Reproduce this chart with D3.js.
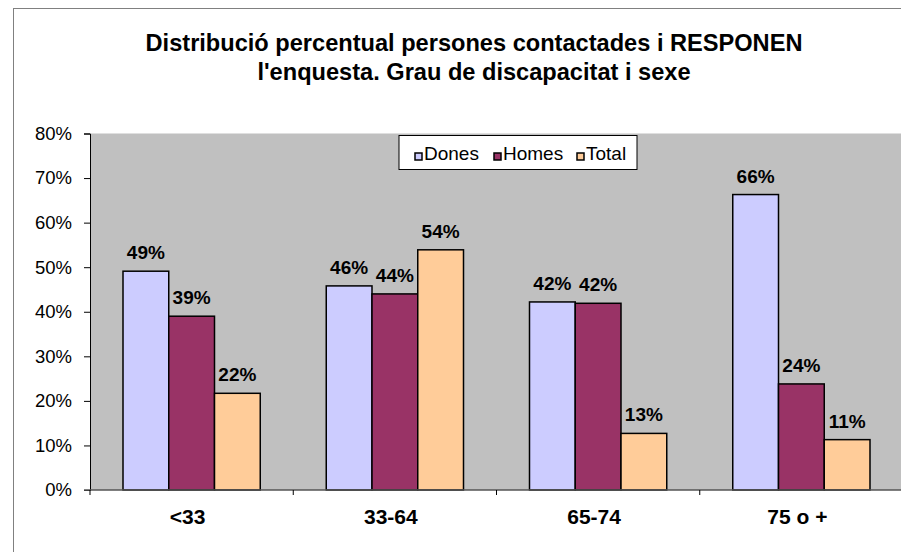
<!DOCTYPE html>
<html><head><meta charset="utf-8">
<script src="https://cdn.jsdelivr.net/npm/d3@7"></script>
<style>body{margin:0;background:#fff}svg{display:block;font-family:Arial,"Liberation Sans",sans-serif}</style>
</head><body>
<svg id="c" width="901" height="552"></svg>
<script>
const categories = ["<33", "33-64", "65-74", "75 o +"];
const seriesNames = ["Dones", "Homes", "Total"];
const dones = [49.1, 45.8, 42.2, 66.3];
const homes = [39.0, 44.0, 41.9, 23.8];
const total = [21.7, 53.9, 12.7, 11.3];
const yTicks = [0, 10, 20, 30, 40, 50, 60, 70, 80];
const titleLines = ["Distribució percentual persones contactades i RESPONEN", "l'enquesta. Grau de discapacitat i sexe"];
const colors = ["#CCCCFF", "#993366", "#FFCC99"];

const svg = d3.select("#c");
// outer border
svg.append("rect").attr("x", 13.5).attr("y", 8.5).attr("width", 950).attr("height", 600)
  .attr("fill", "#fff").attr("stroke", "#808080").attr("stroke-width", 1);

const pLeft = 90, pTop = 133.5, pBottom = 490, pRight = 903;
const x = d3.scaleBand().domain(categories).range([pLeft, pRight]).paddingInner(0).paddingOuter(0);
const y = d3.scaleLinear().domain([0, 80]).range([pBottom, pTop]);

svg.append("rect").attr("x", pLeft).attr("y", pTop).attr("width", 901 - pLeft).attr("height", pBottom - pTop).attr("fill", "#C0C0C0");

// title
svg.append("text").attr("x", 474).attr("y", 51).attr("text-anchor", "middle")
  .attr("font-size", 23.6).attr("font-weight", "bold").text(titleLines[0]);
svg.append("text").attr("x", 474).attr("y", 80).attr("text-anchor", "middle")
  .attr("font-size", 23.6).attr("font-weight", "bold").text(titleLines[1]);

const groupPad = 33;
const x1 = d3.scaleBand().domain(seriesNames).range([groupPad, x.bandwidth() - groupPad]);
const fmt = v => Math.round(v) + "%";

const series = [dones, homes, total];
seriesNames.forEach((s, si) => {
  const g = svg.append("g");
  categories.forEach((c, ci) => {
    const v = series[si][ci];
    const bx = x(c) + x1(s);
    g.append("rect").attr("x", bx).attr("y", y(v)).attr("width", x1.bandwidth()).attr("height", pBottom - y(v))
      .attr("fill", colors[si]).attr("stroke", "#000").attr("stroke-width", 1.5);
    g.append("text").attr("x", bx + x1.bandwidth() / 2).attr("y", y(v) - 12).attr("text-anchor", "middle")
      .attr("font-size", 19).attr("font-weight", "bold").text(fmt(v));
  });
});

// y axis
const yAxis = d3.axisLeft(y).tickValues(yTicks).tickFormat(d => d + "%").tickSize(6).tickPadding(12);
const ya = svg.append("g").attr("transform", `translate(${pLeft},0)`).call(yAxis);
ya.select(".domain").attr("stroke", "#000");
ya.selectAll("text").attr("font-size", 18.5).attr("font-family", "Arial, 'Liberation Sans', sans-serif");

// x axis
const xa = svg.append("g").attr("transform", `translate(0,${pBottom})`);
xa.append("line").attr("x1", pLeft - 6).attr("x2", 901).attr("y1", 0).attr("y2", 0).attr("stroke", "#555").attr("stroke-width", 1.5);
[pLeft, ...categories.map(c => x(c) + x.bandwidth())].forEach(px => {
  xa.append("line").attr("x1", px).attr("x2", px).attr("y1", 0).attr("y2", 5).attr("stroke", "#000");
});
categories.forEach(c => {
  xa.append("text").attr("x", x(c) + x.bandwidth() / 2 - 4).attr("y", 34).attr("text-anchor", "middle")
    .attr("font-size", 21).attr("font-weight", "bold").text(c);
});

// legend
const lg = svg.append("g").attr("transform", "translate(399,135.5)");
lg.append("rect").attr("x", 0).attr("y", 0).attr("width", 238).attr("height", 34).attr("fill", "#fff").attr("stroke", "#000");
const lx = [16, 95, 178];
seriesNames.forEach((s, i) => {
  lg.append("rect").attr("x", lx[i]).attr("y", 17.5).attr("width", 7).attr("height", 7).attr("fill", colors[i]).attr("stroke", "#000").attr("stroke-width", 1.5);
  lg.append("text").attr("x", lx[i] + 9).attr("y", 24.5).attr("font-size", 19).text(s);
});
</script>
</body></html>
